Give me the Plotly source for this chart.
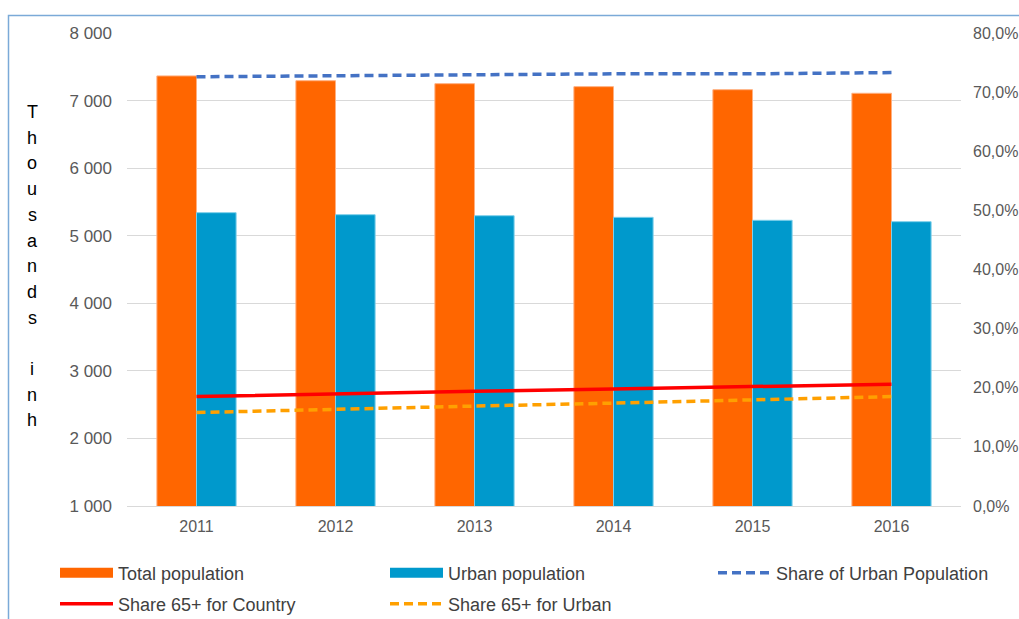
import plotly.graph_objects as go

# Population (thousands) and shares, 2011-2016
years = ["2011", "2012", "2013", "2014", "2015", "2016"]
total_population = [7365, 7294, 7250, 7206, 7161, 7108]
urban_population = [5341, 5311, 5296, 5272, 5228, 5208]
share_urban = [0.726, 0.728, 0.730, 0.731, 0.731, 0.733]
share_65_country = [0.185, 0.190, 0.194, 0.198, 0.202, 0.206]
share_65_urban = [0.158, 0.164, 0.169, 0.174, 0.179, 0.185]

y_title = "Thousands inh"

FONT = "Liberation Sans, Arial, sans-serif"
TICK_COLOR = "#595959"
TEXT_COLOR = "#404040"
ORANGE = "#FF6600"
BLUE = "#0099CC"

fig = go.Figure()

fig.add_trace(go.Bar(
    x=years, y=total_population, name="Total population",
    marker=dict(color=ORANGE, line=dict(color="#FFB080", width=1)),
    showlegend=False,
))
fig.add_trace(go.Bar(
    x=years, y=urban_population, name="Urban population",
    marker=dict(color=BLUE, line=dict(color="#7FD0EA", width=1)),
    showlegend=False,
))

# Wide flat legend swatches for the two bar series
fig.add_trace(go.Scatter(
    x=[None], y=[None], name="Total population", mode="lines",
    line=dict(color=ORANGE, width=10), legend="legend",
))
fig.add_trace(go.Scatter(
    x=[None], y=[None], name="Urban population", mode="lines",
    line=dict(color=BLUE, width=10), legend="legend",
))

fig.add_trace(go.Scatter(
    x=years, y=share_urban, name="Share of Urban Population", yaxis="y2",
    mode="lines", line=dict(color="#4472C4", width=3.5, dash="9px,5px"),
    legend="legend3",
))
fig.add_trace(go.Scatter(
    x=years, y=share_65_country, name="Share 65+ for Country", yaxis="y2",
    mode="lines", line=dict(color="#FF0000", width=3.5),
    legend="legend2",
))
fig.add_trace(go.Scatter(
    x=years, y=share_65_urban, name="Share 65+ for Urban", yaxis="y2",
    mode="lines", line=dict(color="#FFA000", width=3.5, dash="9px,5px"),
    legend="legend2",
))

# Plot area geometry in pixels
W, H = 1019, 619
L, R, T, B = 127, 58, 33, 113
pw, ph = W - L - R, H - T - B


def px_x(x):
    return (x - L) / pw


def px_y(y):
    return (H - B - y) / ph


# Vertical letter-by-letter axis title
annotations = []
for i, ch in enumerate(y_title):
    if ch == " ":
        continue
    annotations.append(dict(
        text=ch, xref="paper", yref="paper", x=px_x(32), y=px_y(112 + i * 25.7),
        xanchor="center", yanchor="middle", showarrow=False,
        font=dict(family=FONT, size=18, color="#000000"),
    ))

legend_common = dict(
    orientation="h", xanchor="left", yanchor="middle",
    entrywidth=262, entrywidthmode="pixels",
    font=dict(family=FONT, size=18, color=TEXT_COLOR),
    bgcolor="rgba(0,0,0,0)", itemwidth=53, itemclick=False,
    traceorder="normal",
)

fig.update_layout(
    width=W, height=H,
    margin=dict(l=L, r=R, t=T, b=B, autoexpand=False),
    paper_bgcolor="white", plot_bgcolor="white",
    separators=", ",
    barmode="group", bargap=0.43, bargroupgap=0,
    font=dict(family=FONT, size=16, color=TICK_COLOR),
    xaxis=dict(
        showgrid=False, zeroline=False, showline=True,
        linecolor="#D9D9D9", linewidth=1,
        tickfont=dict(family=FONT, size=16, color=TICK_COLOR),
        ticks="", ticklabelstandoff=6,
    ),
    yaxis=dict(
        range=[1000, 8000], tickvals=[1000, 2000, 3000, 4000, 5000, 6000, 7000, 8000],
        tickformat=",d", showgrid=True, gridcolor="#D9D9D9", gridwidth=1,
        zeroline=False, showline=False, ticks="",
        tickfont=dict(family=FONT, size=17, color=TICK_COLOR),
        ticklabelstandoff=14, automargin=False,
    ),
    yaxis2=dict(
        range=[0, 0.8], tickvals=[0, 0.1, 0.2, 0.3, 0.4, 0.5, 0.6, 0.7, 0.8],
        tickformat=".1%", overlaying="y", side="right",
        showgrid=False, zeroline=False, showline=False, ticks="",
        tickfont=dict(family=FONT, size=16, color=TICK_COLOR),
        ticklabelstandoff=11, automargin=False,
    ),
    legend=dict(x=px_x(55), y=px_y(573), **legend_common),
    legend2=dict(x=px_x(55), y=px_y(604), **legend_common),
    legend3=dict(x=px_x(713), y=px_y(573), **legend_common),
    annotations=annotations,
    shapes=[dict(
        type="rect", xref="paper", yref="paper",
        x0=px_x(8.5), y0=px_y(700), x1=px_x(1100), y1=px_y(15.5),
        line=dict(color="#7BAAD8", width=1.5), layer="below",
    )],
)

fig.write_html("out.html")
